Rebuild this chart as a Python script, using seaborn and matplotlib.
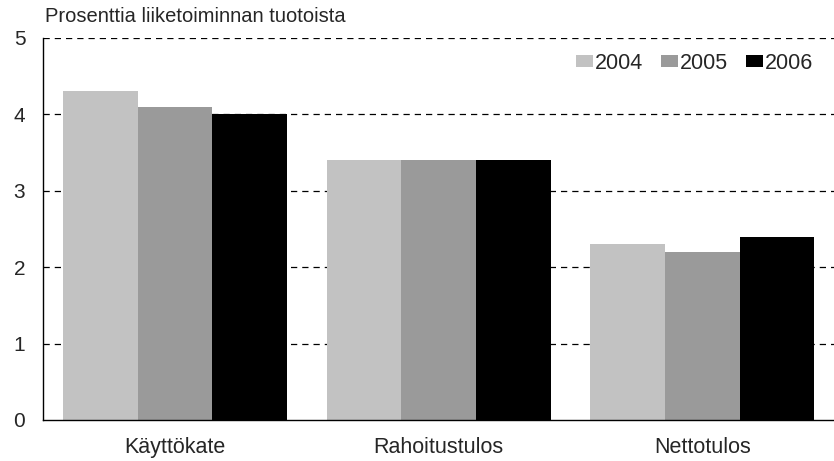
import matplotlib
matplotlib.use("Agg")
import matplotlib.pyplot as plt
import seaborn as sns
import pandas as pd

categories = ["Käyttökate", "Rahoitustulos", "Nettotulos"]
years = ["2004", "2005", "2006"]
v2004 = [4.3, 3.4, 2.3]
v2005 = [4.1, 3.4, 2.2]
v2006 = [4.0, 3.4, 2.4]
colors = ["#c2c2c2", "#9a9a9a", "#000000"]

rows = []
for yr, vals in zip(years, [v2004, v2005, v2006]):
    for c, v in zip(categories, vals):
        rows.append({"cat": c, "year": yr, "value": v})
df = pd.DataFrame(rows)

sns.set_style("white")
plt.rcParams["font.family"] = ["Liberation Sans", "DejaVu Sans"]

fig = plt.figure(figsize=(8.34, 4.61), dpi=100)
ax = fig.add_axes([0.052, 0.089, 0.948, 0.829])

sns.barplot(data=df, x="cat", y="value", hue="year", palette=colors,
            width=0.85, gap=0, saturation=1, ax=ax, legend=True,
            linewidth=0, edgecolor="none")

ax.set_ylim(0, 5)
ax.set_yticks([0, 1, 2, 3, 4, 5])
ax.set_xlim(-0.5, 2.5)
ax.yaxis.grid(True, linestyle=(0, (5, 4)), color="black", linewidth=0.9)
ax.yaxis.get_gridlines()[0].set_visible(False)
ax.set_axisbelow(True)
for s in ["top", "right"]:
    ax.spines[s].set_visible(False)
for s in ["left", "bottom"]:
    ax.spines[s].set_color("black")
    ax.spines[s].set_linewidth(1.0)
    ax.spines[s].set_zorder(5)
ax.tick_params(axis="both", which="major", direction="out", length=7,
               color="black", width=0.8)
ax.tick_params(axis="x", pad=5, labelsize=15.5)
ax.tick_params(axis="y", pad=6, labelsize=15)
ax.set_xlabel("")
ax.set_ylabel("")

leg = ax.legend(loc="upper right", bbox_to_anchor=(0.99, 0.995), ncol=3,
                frameon=False, fontsize=15.5, handlelength=0.8, handleheight=0.55,
                handletextpad=0.1, columnspacing=0.8, borderaxespad=0.2)

fig.text(0.054, 0.965, "Prosenttia liiketoiminnan tuotoista", fontsize=14.5,
         ha="left", va="center")

fig.savefig("out.png", dpi=100)
